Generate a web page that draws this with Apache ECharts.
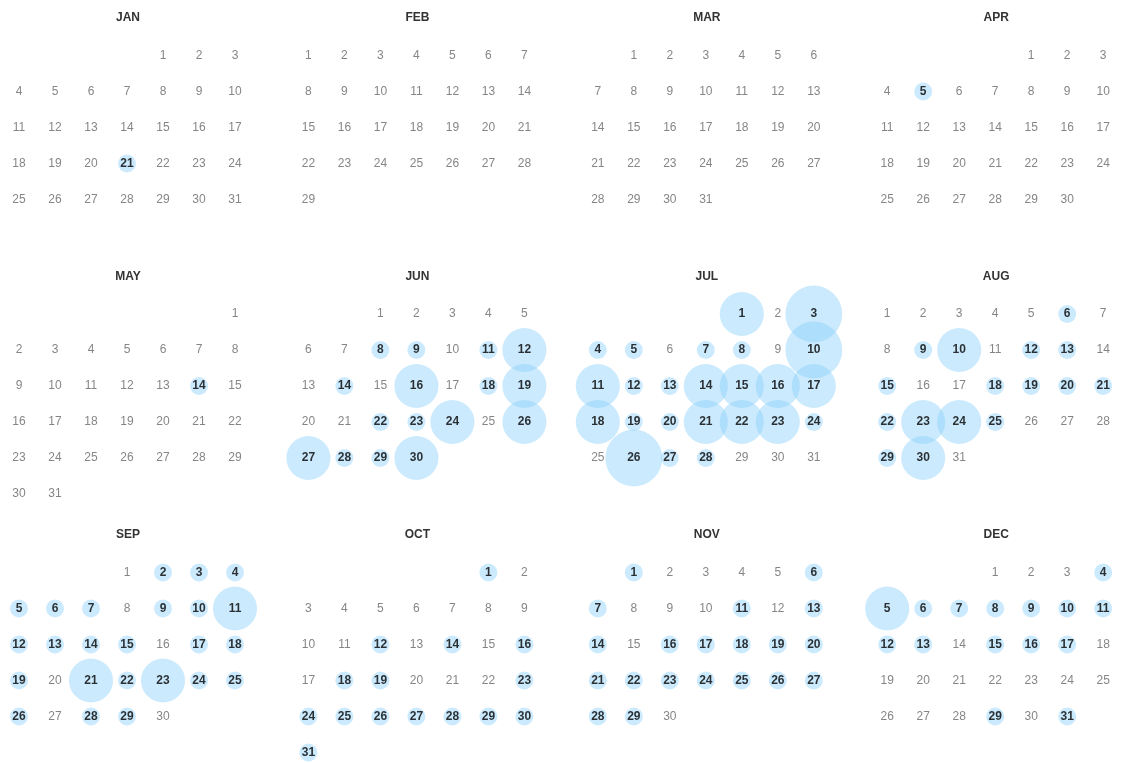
<!DOCTYPE html>
<html><head><meta charset="utf-8">
<script src="https://cdn.jsdelivr.net/npm/echarts@6/dist/echarts.min.js"></script>
<style>html,body{margin:0;padding:0;background:#fff}#c{width:1122px;height:763px}</style>
</head><body><div id="c"></div>
<script>
const YEAR = 2020;
const monthNames = ['JAN','FEB','MAR','APR','MAY','JUN','JUL','AUG','SEP','OCT','NOV','DEC'];
// [day, value] per month
const janVals = [[21,1]];
const febVals = [];
const marVals = [];
const aprVals = [[5,1]];
const mayVals = [[14,1]];
const junVals = [[8,1],[9,1],[11,1],[12,6],[14,1],[16,6],[18,1],[19,6],[22,1],[23,1],[24,6],[26,6],[27,6],[28,1],[29,1],[30,6]];
const julVals = [[1,6],[3,10],[4,1],[5,1],[7,1],[8,1],[10,10],[11,6],[12,1],[13,1],[14,6],[15,6],[16,6],[17,6],[18,6],[19,1],[20,1],[21,6],[22,6],[23,6],[24,1],[26,10],[27,1],[28,1]];
const augVals = [[6,1],[9,1],[10,6],[12,1],[13,1],[15,1],[18,1],[19,1],[20,1],[21,1],[22,1],[23,6],[24,6],[25,1],[29,1],[30,6]];
const sepVals = [[2,1],[3,1],[4,1],[5,1],[6,1],[7,1],[9,1],[10,1],[11,6],[12,1],[13,1],[14,1],[15,1],[17,1],[18,1],[19,1],[21,6],[22,1],[23,6],[24,1],[25,1],[26,1],[28,1],[29,1]];
const octVals = [[1,1],[12,1],[14,1],[16,1],[18,1],[19,1],[23,1],[24,1],[25,1],[26,1],[27,1],[28,1],[29,1],[30,1],[31,1]];
const novVals = [[1,1],[6,1],[7,1],[11,1],[13,1],[14,1],[16,1],[17,1],[18,1],[19,1],[20,1],[21,1],[22,1],[23,1],[24,1],[25,1],[26,1],[27,1],[28,1],[29,1]];
const decVals = [[4,1],[5,6],[6,1],[7,1],[8,1],[9,1],[10,1],[11,1],[12,1],[13,1],[15,1],[16,1],[17,1],[29,1],[31,1]];
const monthData = [janVals,febVals,marVals,aprVals,mayVals,junVals,julVals,augVals,sepVals,octVals,novVals,decVals];

const FONT = 'Liberation Sans, Arial, Helvetica, sans-serif';
const pad = n => (n < 10 ? '0' : '') + n;
const calendars = [], titles = [], series = [];
for (let m = 0; m < 12; m++) {
  const col = m % 4, row = Math.floor(m / 4);
  const left = 1 + col * 289.4;
  const top = 37.5 + row * 258.5;
  calendars.push({
    orient: 'vertical', range: YEAR + '-' + pad(m + 1), left: left, top: top,
    cellSize: [36, 36],
    itemStyle: { color: 'transparent', borderWidth: 0 },
    splitLine: { show: false },
    dayLabel: { show: false, firstDay: 6 },
    monthLabel: { show: false }, yearLabel: { show: false }
  });
  titles.push({
    text: monthNames[m], left: left + 122, top: top - 30.5, textAlign: 'center',
    textStyle: { fontSize: 12, fontWeight: 'bold', color: '#333', fontFamily: FONT }
  });
  const nDays = new Date(YEAR, m + 1, 0).getDate();
  const valMap = {};
  monthData[m].forEach(d => { valMap[d[0]] = d[1]; });
  const bubbles = [], plain = [];
  for (let d = 1; d <= nDays; d++) {
    const ds = YEAR + '-' + pad(m + 1) + '-' + pad(d);
    if (valMap[d] != null) bubbles.push([ds, valMap[d]]); else plain.push([ds, 0]);
  }
  const fmt = p => String(+p.value[0].slice(8));
  series.push({
    type: 'scatter', coordinateSystem: 'calendar', calendarIndex: m,
    data: bubbles, symbolSize: v => 18 * Math.sqrt(v[1]),
    itemStyle: { color: 'rgba(135,206,250,0.54)' },
    label: { show: true, position: 'inside', formatter: fmt, fontSize: 12, fontWeight: 'bold', color: '#000', fontFamily: FONT },
    emphasis: { disabled: true }, silent: true, animation: false
  });
  series.push({
    type: 'scatter', coordinateSystem: 'calendar', calendarIndex: m,
    data: plain, symbolSize: 1,
    itemStyle: { color: 'transparent' },
    label: { show: true, position: 'inside', formatter: fmt, fontSize: 12, color: '#666', fontFamily: FONT },
    emphasis: { disabled: true }, silent: true, animation: false
  });
}
const chart = echarts.init(document.getElementById('c'), null, { renderer: 'canvas' });
chart.setOption({ backgroundColor: '#fff', animation: false, title: titles, calendar: calendars, series: series });
</script></body></html>
